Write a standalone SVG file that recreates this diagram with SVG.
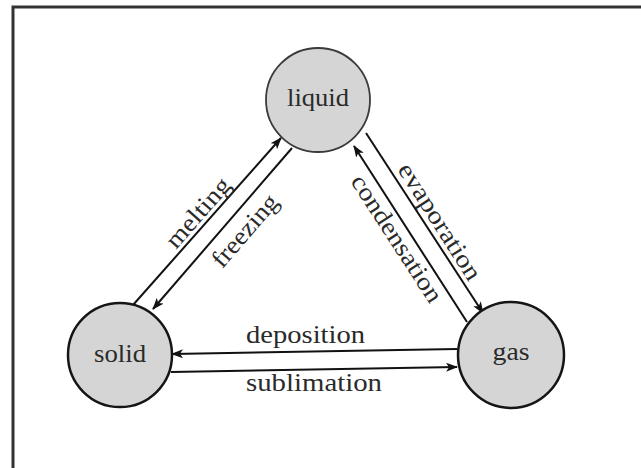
<svg xmlns="http://www.w3.org/2000/svg" width="641" height="468" viewBox="0 0 641 468">
  <defs>
    <marker id="ah" markerWidth="12" markerHeight="10" refX="11" refY="4.5" orient="auto" markerUnits="userSpaceOnUse">
      <path d="M0,0 L12,4.5 L0,9 L3,4.5 z" fill="#111"/>
    </marker>
  </defs>
  <style>
    .node circle { fill: #d5d5d5; stroke: #151515; stroke-width: 2.5; }
    .lbl { font-size: 25px; fill: #2a2a2a; }
    .conn line { stroke: #111; stroke-width: 2; fill: none; }
    .frame { fill: none; stroke: #333; stroke-width: 3; }
  </style>
  <rect width="641" height="468" fill="#ffffff"/>
  <path class="frame" d="M13,468 V7 H641"/>

  <g id="connectors" class="conn">
    <line id="melting" x1="133" y1="305" x2="281" y2="138" marker-end="url(#ah)"/>
    <line id="freezing" x1="292" y1="148" x2="153" y2="309" marker-end="url(#ah)"/>
    <line id="evaporation" x1="366" y1="133" x2="483" y2="313" marker-end="url(#ah)"/>
    <line id="condensation" x1="467" y1="322" x2="354" y2="146" marker-end="url(#ah)"/>
    <line id="deposition" x1="457" y1="349" x2="172" y2="354" marker-end="url(#ah)"/>
    <line id="sublimation" x1="171" y1="372" x2="457" y2="367" marker-end="url(#ah)"/>
  </g>

  <g id="edge-labels" font-family="Liberation Serif, Times New Roman, serif">
    <text class="lbl" text-anchor="middle" textLength="85" lengthAdjust="spacingAndGlyphs" transform="translate(204,218) rotate(-48.6)">melting</text>
    <text class="lbl" text-anchor="middle" textLength="88" lengthAdjust="spacingAndGlyphs" transform="translate(251,236) rotate(-49)">freezing</text>
    <text class="lbl" text-anchor="middle" textLength="134" lengthAdjust="spacingAndGlyphs" transform="translate(433,226) rotate(57.5)">evaporation</text>
    <text class="lbl" text-anchor="middle" textLength="147" lengthAdjust="spacingAndGlyphs" transform="translate(390,243) rotate(57)">condensation</text>
    <text class="lbl" x="246" y="343" textLength="119" lengthAdjust="spacingAndGlyphs">deposition</text>
    <text class="lbl" x="246" y="391" textLength="136" lengthAdjust="spacingAndGlyphs">sublimation</text>
  </g>

  <g id="liquid" class="node" font-family="Liberation Serif, Times New Roman, serif">
    <circle cx="318" cy="100" r="52" style="stroke:#3a3a3a;stroke-width:1.8"/>
    <text class="lbl" x="318" y="106" text-anchor="middle" textLength="62" lengthAdjust="spacingAndGlyphs">liquid</text>
  </g>
  <g id="solid" class="node" font-family="Liberation Serif, Times New Roman, serif">
    <circle cx="120" cy="355" r="52"/>
    <text class="lbl" x="120" y="362" text-anchor="middle" textLength="52" lengthAdjust="spacingAndGlyphs">solid</text>
  </g>
  <g id="gas" class="node" font-family="Liberation Serif, Times New Roman, serif">
    <circle cx="511" cy="355" r="53"/>
    <text class="lbl" x="511" y="360" text-anchor="middle" textLength="37" lengthAdjust="spacingAndGlyphs">gas</text>
  </g>
</svg>
